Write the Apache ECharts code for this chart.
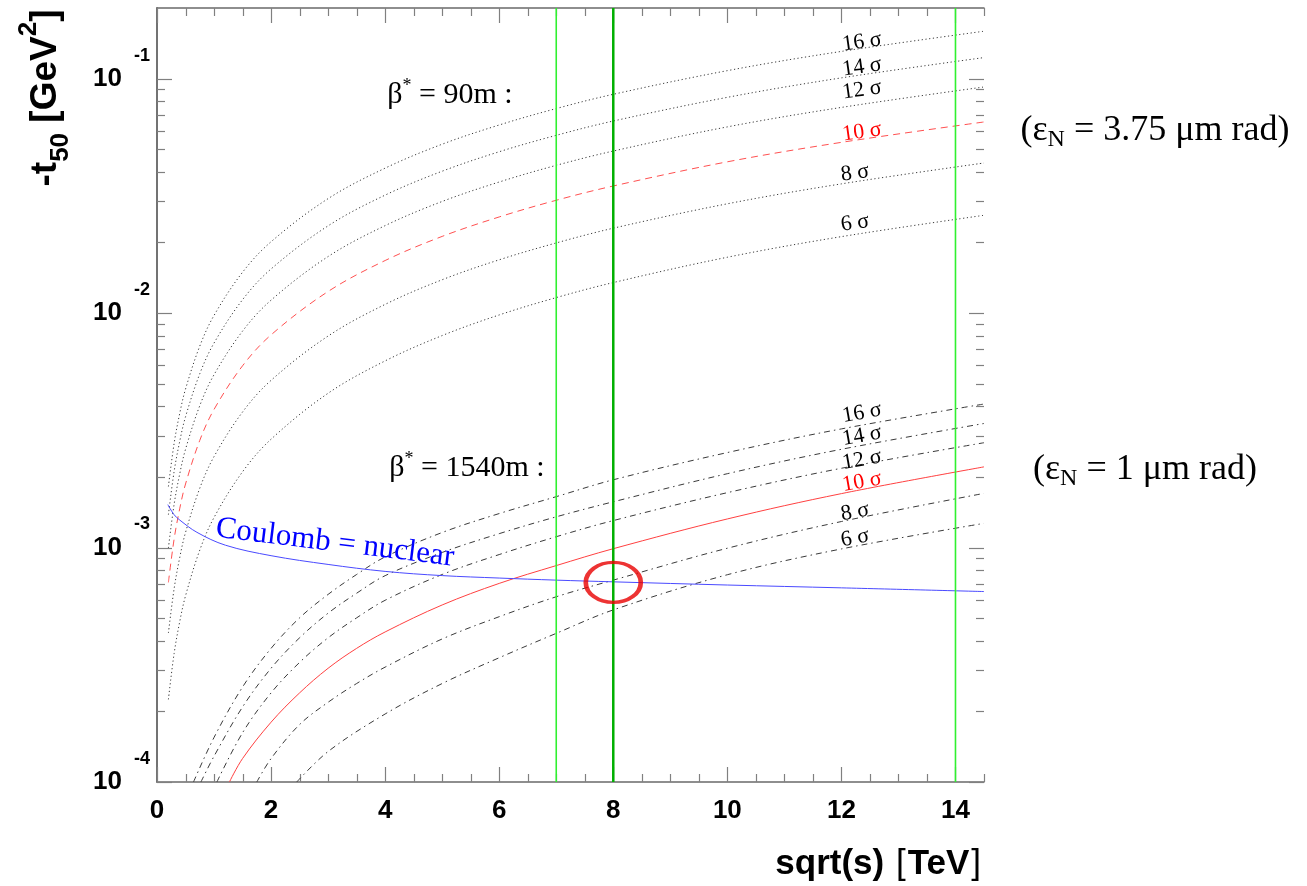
<!DOCTYPE html>
<html>
<head>
<meta charset="utf-8">
<script src="https://cdn.jsdelivr.net/npm/echarts@6/dist/echarts.min.js"></script>
<style>
  html, body { margin: 0; padding: 0; background: #fff; }
  #chart { width: 1307px; height: 886px; }
</style>
</head>
<body>
<div id="chart"></div>
<script>
// axis ranges and ticks
const xMin = 0, xMax = 14.5;
const yMin = 1e-4, yMax = 0.2;
const xTickStep = 2;
const xMinorStep = 0.5;
const yDecades = [-4, -3, -2, -1];

// beta* = 90 m (top group), read at these sqrt(s) values
const topX = [0.2, 0.3, 0.4, 0.5, 0.75, 1, 1.5, 2, 3, 4, 5, 6, 7, 8, 10, 12, 14.5];
const top16 = [1.82e-3, 2.78e-3, 3.75e-3, 4.74e-3, 7.23e-3, 9.77e-3, 1.493e-2, 2.014e-2, 3.076e-2, 4.15e-2, 5.25e-2, 6.34e-2, 7.45e-2, 8.57e-2, 0.1081, 0.1306, 0.1592];
const top14 = [1.38e-3, 2.11e-3, 2.85e-3, 3.61e-3, 5.51e-3, 7.45e-3, 1.140e-2, 1.542e-2, 2.355e-2, 3.184e-2, 4.027e-2, 4.875e-2, 5.728e-2, 6.592e-2, 8.318e-2, 0.1007, 0.1229];
const top12 = [9.95e-4, 1.528e-3, 2.07e-3, 2.624e-3, 4.027e-3, 5.458e-3, 8.375e-3, 1.135e-2, 1.742e-2, 2.36e-2, 2.992e-2, 3.622e-2, 4.266e-2, 4.909e-2, 6.223e-2, 7.534e-2, 9.21e-2];
const top10 = [7.10e-4, 1.086e-3, 1.472e-3, 1.866e-3, 2.864e-3, 3.882e-3, 5.957e-3, 8.072e-3, 1.236e-2, 1.675e-2, 2.123e-2, 2.57e-2, 3.027e-2, 3.483e-2, 4.416e-2, 5.346e-2, 6.531e-2];
const top8 = [4.32e-4, 6.67e-4, 9.10e-4, 1.159e-3, 1.791e-3, 2.443e-3, 3.784e-3, 5.164e-3, 7.98e-3, 1.089e-2, 1.387e-2, 1.687e-2, 1.991e-2, 2.301e-2, 2.924e-2, 3.556e-2, 4.365e-2];
const top6 = [2.25e-4, 3.53e-4, 4.85e-4, 6.22e-4, 9.75e-4, 1.343e-3, 2.104e-3, 2.897e-3, 4.55e-3, 6.252e-3, 8.017e-3, 9.817e-3, 1.164e-2, 1.349e-2, 1.73e-2, 2.118e-2, 2.612e-2];

// beta* = 1540 m (bottom group), each curve enters at the lower frame
const bot16X = [0.64, 1, 1.5, 2, 2.5, 3, 3.5, 4, 5, 6, 7, 8, 10, 12, 14.5];
const bot16 = [1.0e-4, 1.549e-4, 2.541e-4, 3.715e-4, 5.012e-4, 6.31e-4, 7.674e-4, 9.12e-4, 1.159e-3, 1.396e-3, 1.648e-3, 1.945e-3, 2.541e-3, 3.206e-3, 4.093e-3];
const bot14X = [0.77, 1, 1.5, 2, 2.5, 3, 3.5, 4, 5, 6, 7, 8, 10, 12, 14.5];
const bot14 = [1.0e-4, 1.288e-4, 2.089e-4, 3.055e-4, 4.121e-4, 5.248e-4, 6.383e-4, 7.586e-4, 9.528e-4, 1.146e-3, 1.352e-3, 1.567e-3, 2.065e-3, 2.624e-3, 3.381e-3];
const bot12X = [1.05, 1.5, 2, 2.5, 3, 3.5, 4, 5, 6, 7, 8, 10, 12, 14.5];
const bot12 = [1.0e-4, 1.622e-4, 2.399e-4, 3.236e-4, 4.121e-4, 5.012e-4, 5.957e-4, 7.674e-4, 9.333e-4, 1.112e-3, 1.303e-3, 1.714e-3, 2.178e-3, 2.799e-3];
const bot10X = [1.27, 1.5, 2, 2.5, 3, 3.5, 4, 5, 6, 7, 8, 10, 12, 14.5];
const bot10 = [1.0e-4, 1.259e-4, 1.799e-4, 2.399e-4, 3.055e-4, 3.715e-4, 4.365e-4, 5.689e-4, 7.031e-4, 8.375e-4, 9.886e-4, 1.324e-3, 1.698e-3, 2.208e-3];
const bot8X = [1.75, 2, 2.5, 3, 3.5, 4, 5, 6, 7, 8, 10, 12, 14.5];
const bot8 = [1.0e-4, 1.259e-4, 1.758e-4, 2.188e-4, 2.63e-4, 3.09e-4, 4.074e-4, 5.07e-4, 6.166e-4, 7.261e-4, 9.931e-4, 1.291e-3, 1.702e-3];
const bot6X = [2.45, 3, 4, 5, 6, 7, 8, 10, 12, 14.5];
const bot6 = [1.0e-4, 1.349e-4, 1.95e-4, 2.63e-4, 3.388e-4, 4.305e-4, 5.42e-4, 7.656e-4, 9.863e-4, 1.268e-3];

// Coulomb = nuclear
const coulX = [0.19, 0.3, 0.4, 0.7, 1.2, 2, 3, 4, 5, 6, 7, 8, 10, 12, 14.5];
const coul = [1.524e-3, 1.38e-3, 1.309e-3, 1.161e-3, 1.023e-3, 9.23e-4, 8.47e-4, 7.91e-4, 7.59e-4, 7.41e-4, 7.26e-4, 7.14e-4, 6.92e-4, 6.73e-4, 6.49e-4];

// LHC energies and the marked crossing
const energyLines = [7, 8, 14];
const crossing = [[8, 7.1e-4]];

const sigmaLabels = ['16 σ', '14 σ', '12 σ', '10 σ', '8 σ', '6 σ'];

const SANS = 'Liberation Sans';
const SERIF = 'Liberation Serif';
const FRAME = '#6a6a6a';
const TICK = '#808080';

const zip = (xs, ys) => xs.map((x, i) => [x, ys[i]]);

const dotted = [1.2, 2.6];
const dashed = [7, 5];
const dashDot = [6, 4, 1.5, 4];

function curve(xs, ys, color, type) {
  return {
    type: 'line',
    data: zip(xs, ys),
    symbol: 'none',
    smooth: 0.35,
    lineStyle: { color: color, width: 1, type: type },
    silent: true,
    z: 2
  };
}

// tick values for the ROOT-style frame (ticks pointing inwards on all four sides)
const xMajor = [], xMinor = [];
for (let v = xMin; v <= xMax + 1e-9; v += xMinorStep) {
  const r = Math.round(v * 100) / 100;
  if (Math.abs(r / xTickStep - Math.round(r / xTickStep)) < 1e-6) xMajor.push(r); else xMinor.push(r);
}
const yMajor = yDecades.map(d => Math.pow(10, d));
const yMinor = [];
yDecades.forEach(d => {
  for (let k = 2; k <= 9; k++) {
    const v = k * Math.pow(10, d);
    if (v < yMax * 0.999) yMinor.push(v);
  }
});

function renderTicks(params, api) {
  const cs = params.coordSys;
  const left = cs.x, right = cs.x + cs.width, top = cs.y, bottom = cs.y + cs.height;
  const style = { stroke: TICK, lineWidth: 1.2 };
  const kids = [];
  const seg = (x1, y1, x2, y2) => kids.push({ type: 'line', shape: { x1, y1, x2, y2 }, style });
  const xt = (v, len) => {
    const px = Math.round(api.coord([v, yMin])[0]) + 0.5;
    seg(px, bottom, px, bottom - len);
    seg(px, top, px, top + len);
  };
  const yt = (v, len) => {
    const py = Math.round(api.coord([xMin, v])[1]) + 0.5;
    seg(left, py, left + len, py);
    seg(right, py, right - len, py);
  };
  xMajor.forEach(v => xt(v, 15));
  xMinor.forEach(v => xt(v, 8));
  yMajor.forEach(v => yt(v, 15));
  yMinor.forEach(v => yt(v, 8));
  return { type: 'group', children: kids };
}

const chart = echarts.init(document.getElementById('chart'));

const frameLine = { show: true, lineStyle: { color: FRAME, width: 1.5 } };

const xAxisBase = {
  type: 'value',
  min: xMin,
  max: xMax,
  interval: xTickStep,
  axisLine: frameLine,
  axisTick: { show: false },
  minorTick: { show: false },
  splitLine: { show: false },
  minorSplitLine: { show: false }
};

const yLogBase = {
  type: 'log',
  logBase: 10,
  min: yMin,
  max: yMax,
  axisLine: frameLine,
  axisTick: { show: false },
  splitLine: { show: false }
};

const series = [
  {
    type: 'custom',
    data: [[xMin, yMin]],
    renderItem: renderTicks,
    silent: true,
    z: 1
  },
  curve(topX, top16, '#3a3a3a', dotted),
  curve(topX, top14, '#3a3a3a', dotted),
  curve(topX, top12, '#3a3a3a', dotted),
  curve(topX, top10, '#ff5050', dashed),
  curve(topX, top8, '#3a3a3a', dotted),
  curve(topX, top6, '#3a3a3a', dotted),
  curve(bot16X, bot16, '#3a3a3a', dashDot),
  curve(bot14X, bot14, '#3a3a3a', dashDot),
  curve(bot12X, bot12, '#3a3a3a', dashDot),
  curve(bot10X, bot10, '#ff4040', 'solid'),
  curve(bot8X, bot8, '#3a3a3a', dashDot),
  curve(bot6X, bot6, '#3a3a3a', dashDot),
  Object.assign(curve(coulX, coul, '#4a4aff', 'solid'), { z: 3 })
];

energyLines.forEach(x => {
  series.push({
    type: 'line',
    data: [[x, yMin], [x, yMax]],
    symbol: 'none',
    silent: true,
    z: 4,
    lineStyle: { color: x === 8 ? '#00b000' : '#30f030', width: x === 8 ? 2.5 : 1.6 }
  });
});

series.push({
  type: 'scatter',
  data: crossing,
  symbol: 'circle',
  symbolSize: [55, 40],
  silent: true,
  z: 5,
  itemStyle: { color: 'rgba(0,0,0,0)', borderColor: '#e80000', borderWidth: 4 }
});

chart.setOption({
  animation: false,
  backgroundColor: '#fff',
  grid: { left: 157, top: 8, right: 323, bottom: 104 },
  xAxis: [
    Object.assign({}, xAxisBase, {
      position: 'bottom',
      axisLabel: {
        fontFamily: SANS, fontWeight: 'bold', fontSize: 26, color: '#000',
        margin: 16, showMaxLabel: false
      }
    }),
    Object.assign({}, xAxisBase, { position: 'top', axisLabel: { show: false } })
  ],
  yAxis: [
    Object.assign({}, yLogBase, {
      position: 'left',
      axisLabel: {
        margin: 7,
        showMaxLabel: false,
        formatter: v => '{b|10}{s|' + Math.round(Math.log10(v)) + '}',
        rich: {
          b: { fontFamily: SANS, fontWeight: 'bold', fontSize: 26, color: '#000' },
          s: { fontFamily: SANS, fontWeight: 'bold', fontSize: 18, color: '#000', padding: [0, 0, 46, 12] }
        }
      }
    }),
    Object.assign({}, yLogBase, { position: 'right', axisLabel: { show: false } })
  ],
  series: series
});

// text annotations
const sigmaTop = [[862, 42], [862, 67], [862, 90], [862, 132], [855, 173], [855, 223]];
const sigmaBot = [[862, 413], [862, 436], [862, 460], [862, 482], [855, 512], [855, 538]];

function sigmaText(pos, i, rot) {
  return {
    type: 'text', x: pos[0], y: pos[1], rotation: rot * Math.PI / 180, z: 100,
    style: {
      text: sigmaLabels[i], fontFamily: SERIF, fontSize: 22,
      fill: i === 3 ? '#ff0000' : '#000', align: 'center', verticalAlign: 'middle'
    }
  };
}

const betaRich = {
  a: { fontFamily: SERIF, fontSize: 30, fill: '#000' },
  s: { fontFamily: SERIF, fontSize: 18, fill: '#000', padding: [0, 0, 18, 0] }
};
const epsRich = {
  a: { fontFamily: SERIF, fontSize: 36, fill: '#000' },
  n: { fontFamily: SERIF, fontSize: 24, fill: '#000', padding: [18, 0, 0, 0] }
};

const graphics = [];
sigmaTop.forEach((p, i) => graphics.push(sigmaText(p, i, 8)));
sigmaBot.forEach((p, i) => graphics.push(sigmaText(p, i, 10)));
graphics.push(
  { type: 'text', x: 450, y: 95, z: 100,
    style: { text: '{a|β}{s|*}{a| = 90m :}', rich: betaRich, align: 'center', verticalAlign: 'middle' } },
  { type: 'text', x: 467, y: 468, z: 100,
    style: { text: '{a|β}{s|*}{a| = 1540m :}', rich: betaRich, align: 'center', verticalAlign: 'middle' } },
  { type: 'text', x: 1155, y: 131, z: 100,
    style: { text: '{a|(ε}{n|N}{a| = 3.75 μm rad)}', rich: epsRich, align: 'center', verticalAlign: 'middle' } },
  { type: 'text', x: 1145, y: 470, z: 100,
    style: { text: '{a|(ε}{n|N}{a| = 1 μm rad)}', rich: epsRich, align: 'center', verticalAlign: 'middle' } },
  { type: 'text', x: 335, y: 543, rotation: -7 * Math.PI / 180, z: 100,
    style: { text: 'Coulomb = nuclear', fontFamily: SERIF, fontSize: 31, fill: '#0000ff', align: 'center', verticalAlign: 'middle' } },
  { type: 'text', x: 983, y: 864, z: 100,
    style: {
      text: '{b|sqrt(s) }{r|[}{b|TeV}{r|]}', align: 'right', verticalAlign: 'middle',
      rich: {
        b: { fontFamily: SANS, fontWeight: 'bold', fontSize: 35, fill: '#000' },
        r: { fontFamily: SANS, fontSize: 35, fill: '#000', padding: [0, 2, 0, 2] }
      }
    } },
  { type: 'text', x: 46, y: 98, rotation: Math.PI / 2, z: 100,
    style: {
      text: '{t|-t}{d|50}{t| [GeV}{u|2}{t|]}', align: 'center', verticalAlign: 'middle',
      rich: {
        t: { fontFamily: SANS, fontWeight: 'bold', fontSize: 37, fill: '#000' },
        d: { fontFamily: SANS, fontWeight: 'bold', fontSize: 26, fill: '#000', padding: [30, 0, 0, 0] },
        u: { fontFamily: SANS, fontWeight: 'bold', fontSize: 26, fill: '#000', padding: [0, 0, 34, 0] }
      }
    } }
);

chart.setOption({ graphic: graphics });
</script>
</body>
</html>
